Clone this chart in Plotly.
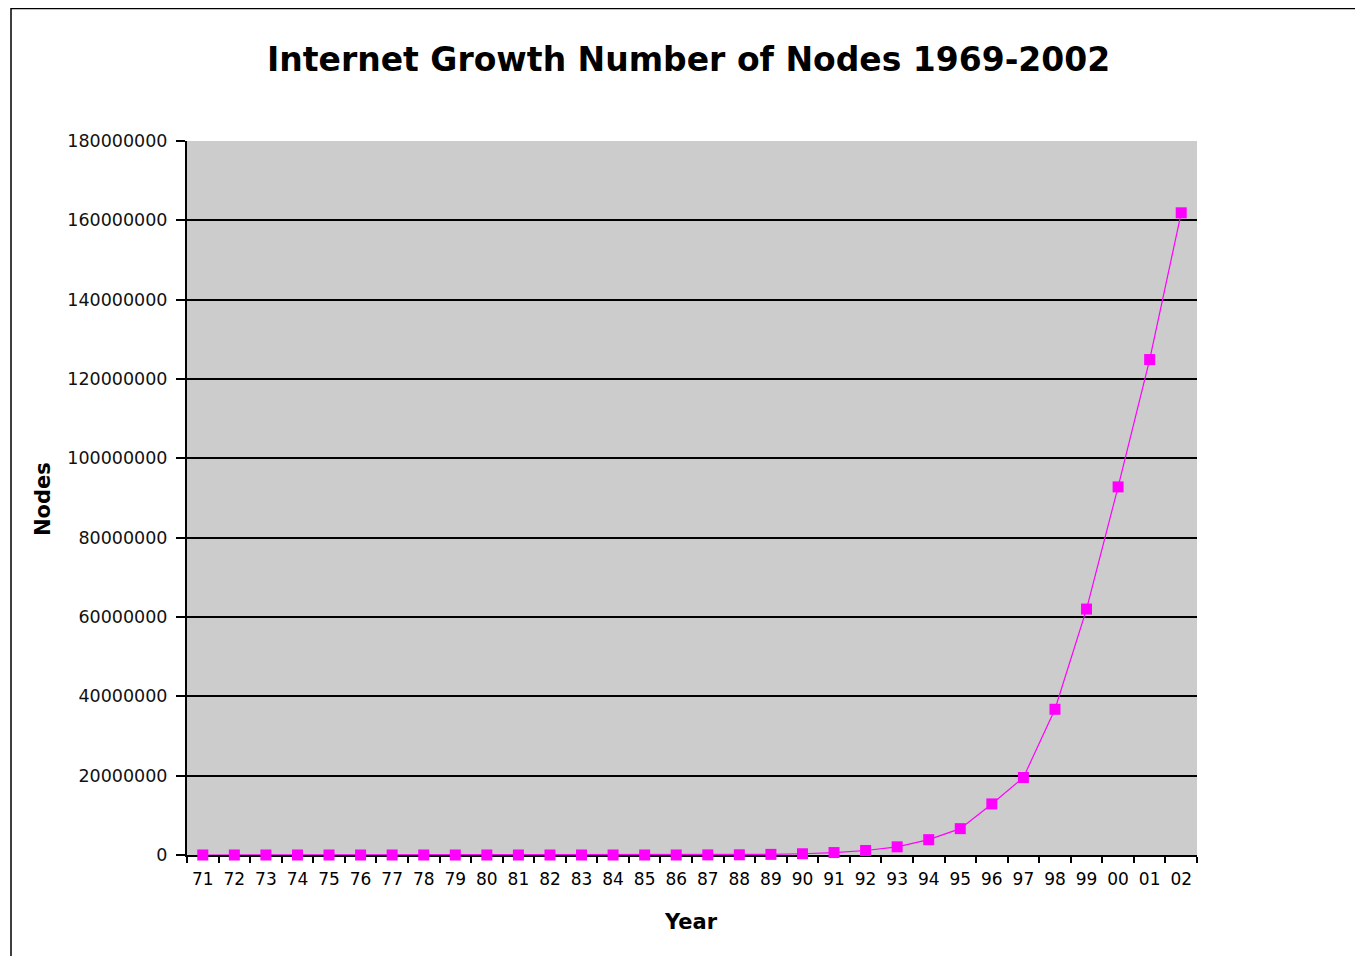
import plotly.graph_objects as go

years = ["71", "72", "73", "74", "75", "76", "77", "78", "79", "80", "81",
         "82", "83", "84", "85", "86", "87", "88", "89", "90", "91", "92",
         "93", "94", "95", "96", "97", "98", "99", "00", "01", "02"]
nodes = [23, 31, 35, 62, 80, 100, 111, 150, 188, 200, 213,
         235, 562, 1024, 1961, 5089, 28174, 56000, 159000, 313000, 617000, 1136000,
         2056000, 3864000, 6642000, 12881000, 19540000, 36739000, 62000000, 92800000,
         124900000, 161900000]
y_ticks = [0, 20000000, 40000000, 60000000, 80000000, 100000000, 120000000,
           140000000, 160000000, 180000000]

OFF = 8  # page body margin
W, H = 1363 - OFF, 956 - OFF
L, R, T, B = 187 - OFF, 1197 - OFF, 141 - OFF, 855 - OFF

fig = go.Figure()
fig.add_trace(go.Scatter(
    x=years, y=nodes, mode="lines+markers",
    line=dict(color="#FF00FF", width=1.2),
    marker=dict(symbol="square", size=11, color="#FF00FF"),
    cliponaxis=False,
    showlegend=False,
))

def px_to_paper_x(px):
    return (px - OFF - L) / (R - L)

def px_to_paper_y(py):
    return (B - (py - OFF)) / (B - T)

fig.update_layout(
    width=W, height=H,
    margin=dict(l=L, r=W - R, t=T, b=H - B, pad=0),
    paper_bgcolor="white",
    plot_bgcolor="#CCCCCC",
    font=dict(family="DejaVu Sans", color="black"),
    xaxis=dict(
        type="category", categoryorder="array", categoryarray=years,
        tickson="boundaries", ticks="outside", ticklen=6, tickcolor="black", tickwidth=1.5,
        showline=True, linecolor="black", linewidth=2,
        showgrid=False, tickfont=dict(size=17, family="DejaVu Sans", color="black"),
        ticklabelstandoff=8, layer="below traces",
        range=[-0.5, len(years) - 0.5],
    ),
    yaxis=dict(
        range=[0, 180000000], tickvals=y_ticks,
        ticktext=[str(v) for v in y_ticks],
        ticks="outside", ticklen=9, tickcolor="black", tickwidth=1.5,
        showline=True, linecolor="black", linewidth=2,
        showgrid=True, gridcolor="black", gridwidth=1.5,
        zeroline=False, ticklabelstandoff=5, layer="below traces",
        tickfont=dict(size=17.5, family="DejaVu Sans", color="#111"),
    ),
    shapes=[dict(
        type="rect", xref="paper", yref="paper",
        x0=px_to_paper_x(11), x1=px_to_paper_x(1375),
        y0=px_to_paper_y(970), y1=px_to_paper_y(8.5),
        line=dict(color="black", width=1.5), fillcolor="rgba(0,0,0,0)", layer="below",
    )],
    annotations=[
        dict(text="<b>Internet Growth Number of Nodes 1969-2002</b>",
             xref="paper", yref="paper", x=px_to_paper_x(688), y=px_to_paper_y(60),
             xanchor="center", yanchor="middle", showarrow=False,
             font=dict(size=33, family="DejaVu Sans", color="black")),
        dict(text="<b>Nodes</b>", textangle=-90,
             xref="paper", yref="paper", x=px_to_paper_x(43), y=px_to_paper_y(499),
             xanchor="center", yanchor="middle", showarrow=False,
             font=dict(size=21, family="DejaVu Sans", color="black")),
        dict(text="<b>Year</b>",
             xref="paper", yref="paper", x=px_to_paper_x(691), y=px_to_paper_y(922),
             xanchor="center", yanchor="middle", showarrow=False,
             font=dict(size=21, family="DejaVu Sans", color="black")),
    ],
)

fig.write_html("out.html")
